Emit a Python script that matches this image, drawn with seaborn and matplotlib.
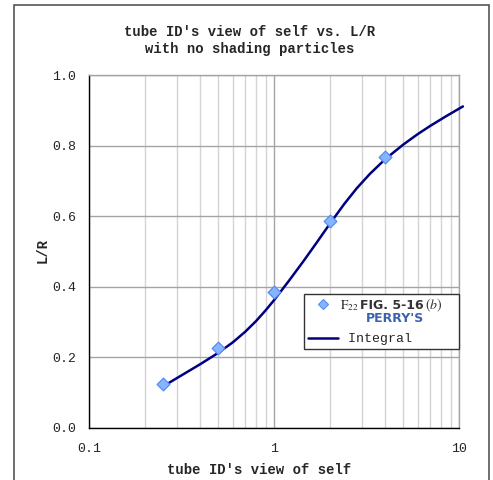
import numpy as np
import pandas as pd
import matplotlib
matplotlib.use("Agg")
import matplotlib.pyplot as plt
from matplotlib.lines import Line2D
from matplotlib.patches import Rectangle
from matplotlib.ticker import LogLocator, NullFormatter, FixedLocator, FixedFormatter
import seaborn as sns

# Perry's Fig. 5-16(b) readings
f22_x = [0.25, 0.5, 1.0, 2.0, 4.0]
f22_y = [0.125, 0.227, 0.385, 0.586, 0.768]

# integrated view factor curve
integral_x = [0.25, 0.3, 0.4, 0.5, 0.6, 0.7, 0.8, 0.9, 1.0, 1.2, 1.44, 1.7, 2.0,
              2.4, 2.8, 3.3, 4.0, 5.0, 6.0, 7.0, 8.5, 10.5]
integral_y = [0.117, 0.142, 0.181, 0.213, 0.243, 0.273, 0.303, 0.333, 0.362, 0.416,
              0.472, 0.525, 0.578, 0.635, 0.679, 0.720, 0.762, 0.803, 0.833, 0.856,
              0.883, 0.911]

x_ticks = [0.1, 1, 10]
x_tick_labels = ["0.1", "1", "10"]
y_ticks = [0.0, 0.2, 0.4, 0.6, 0.8, 1.0]
y_tick_labels = ["0.0", "0.2", "0.4", "0.6", "0.8", "1.0"]

sns.set_style("white")
plt.rcParams["font.family"] = ["Liberation Mono", "DejaVu Sans Mono"]
plt.rcParams["mathtext.fontset"] = "stix"

W, H = 493, 480
fig = plt.figure(figsize=(W / 100, H / 100), dpi=100)
ax = fig.add_axes([89 / W, 1 - 428 / H, (459 - 89) / W, (428 - 75) / H])

mono = "Liberation Mono"
major_grid = "#a4a4a4"
minor_grid = "#d4d4d4"
pt_fill, pt_edge = "#88b4ff", "#558cf4"

ax.set_xscale("log")
ax.set_xlim(0.1, 10)
ax.set_ylim(0, 1)

# grid
ax.xaxis.set_major_locator(FixedLocator(x_ticks))
ax.xaxis.set_major_formatter(FixedFormatter(x_tick_labels))
ax.xaxis.set_minor_locator(LogLocator(base=10, subs=np.arange(2, 10)))
ax.xaxis.set_minor_formatter(NullFormatter())
ax.yaxis.set_major_locator(FixedLocator(y_ticks))
ax.yaxis.set_major_formatter(FixedFormatter(y_tick_labels))
ax.grid(True, which="major", axis="both", color=major_grid, lw=1.0)
ax.grid(True, which="minor", axis="x", color=minor_grid, lw=1.0)
ax.set_axisbelow(True)

df_pts = pd.DataFrame({"x": f22_x, "y": f22_y})
df_int = pd.DataFrame({"x": integral_x, "y": integral_y})

sns.lineplot(data=df_int, x="x", y="y", ax=ax, color="#000080", lw=1.8,
             sort=False, estimator=None, zorder=3)
ax.lines[-1].set_clip_on(False)
ax.lines[-1].set_solid_joinstyle("round")
sns.scatterplot(data=df_pts, x="x", y="y", ax=ax, marker="D", s=42,
                color=pt_fill, edgecolor=pt_edge, linewidth=0.9, zorder=4)

for side in ["left", "bottom"]:
    ax.spines[side].set_color("black")
    ax.spines[side].set_linewidth(1.0)
for side in ["top", "right"]:
    ax.spines[side].set_color(major_grid)
    ax.spines[side].set_linewidth(1.0)

ax.tick_params(axis="both", which="major", direction="out", length=4, width=1,
               color="black", labelsize=9.5, pad=5)
ax.tick_params(axis="x", which="major", pad=7)
ax.tick_params(axis="x", which="minor", length=0)
for lab in ax.get_xticklabels() + ax.get_yticklabels():
    lab.set_fontfamily(mono)

ax.set_xlabel("")
ax.set_ylabel("")
fig.text(259 / W, 1 - 470 / H, "tube ID's view of self", ha="center", va="center",
         fontsize=10, fontweight="bold", family=mono)
fig.text(43 / W, 1 - 250 / H, "L/R", ha="center", va="center", rotation=90,
         fontsize=10, fontweight="bold", family=mono)

fig.text(250 / W, 1 - 32 / H, "tube ID's view of self vs. L/R", ha="center",
         va="center", fontsize=10, fontweight="bold", family=mono)
fig.text(250 / W, 1 - 49 / H, "with no shading particles", ha="center",
         va="center", fontsize=10, fontweight="bold", family=mono)

# legend
h_pts = Line2D([], [], ls="none", marker="D", ms=4.6, mfc=pt_fill,
               mec=pt_edge, mew=0.8)
h_int = Line2D([], [], color="#000080", lw=1.8)
ax_w, ax_h = 459 - 89, 428 - 75
leg = ax.legend([h_pts, h_int], [r"$\mathrm{F}_{22}$", " Integral"],
                loc="upper left",
                bbox_to_anchor=((304 - 89) / ax_w, 0, (459 - 304) / ax_w,
                                (428 - 294) / ax_h),
                mode="expand", borderaxespad=0, frameon=True, fancybox=False,
                edgecolor="#333333", framealpha=1, borderpad=0.3,
                labelspacing=1.55, handlelength=2.25, handletextpad=0.15,
                prop={"family": mono, "size": 9.5})
leg.get_frame().set_linewidth(1.0)
t0 = leg.get_texts()[0]
fig_lab = ax.annotate("FIG. 5-16", xy=(1, 0.5), xycoords=t0, xytext=(1.5, 0),
                      textcoords="offset points", va="center", ha="left",
                      fontsize=9, fontweight="bold", family="DejaVu Sans",
                      color="#333333", zorder=10)
ax.annotate(r"$(b)$", xy=(1, 0.5), xycoords=fig_lab, xytext=(0.5, 0),
            textcoords="offset points", va="center", ha="left",
            fontsize=10, color="#333333", zorder=10)
ax.annotate("PERRY'S", xy=(0.54, 0.5), xycoords=fig_lab, xytext=(0, -9.5),
            textcoords="offset points", va="center", ha="center",
            fontsize=9, fontweight="bold", family="DejaVu Sans",
            color="#3b62b0", zorder=10)

# chart border
fig.patches.append(Rectangle((14 / W, -0.05), (489 - 14) / W, 1.05 - 5 / H,
                             transform=fig.transFigure, fill=False,
                             edgecolor="#555555", lw=1.2, clip_on=False))

fig.savefig("out.png", dpi=100)
